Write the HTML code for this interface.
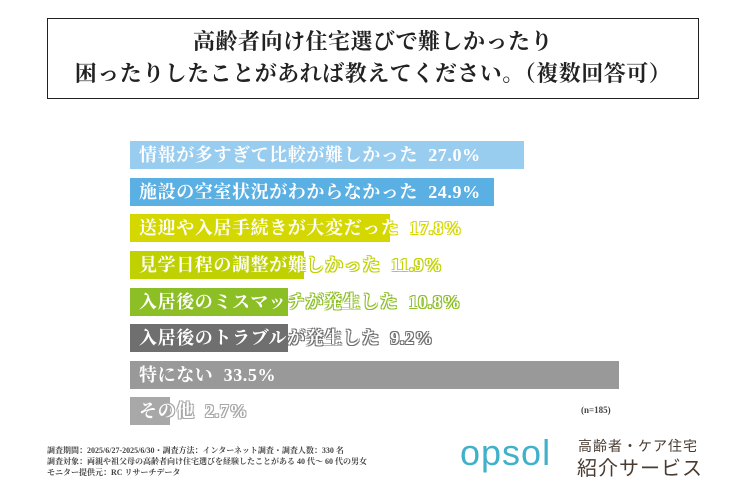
<!DOCTYPE html>
<html><head><meta charset="utf-8"><style>
body{margin:0;width:750px;height:500px;background:#fff;position:relative;overflow:hidden;font-family:"Liberation Serif","Noto Serif CJK SC",serif}
.t{position:absolute;left:47px;top:18px;width:652px;height:81px;border:1.5px solid #222;box-sizing:border-box;text-align:center;font-weight:bold;font-size:22px;line-height:32px;padding-top:7px;color:#222;letter-spacing:0.5px}
.b{position:absolute;left:130px;height:28px}
.l{position:absolute;left:139px;height:28px;line-height:29px;font-size:18px;font-weight:bold;color:#fff;white-space:nowrap;letter-spacing:0.6px}
.n{position:absolute;font-size:9px;font-weight:bold;color:#444}
.f{position:absolute;left:47px;top:445px;font-size:8px;line-height:11px;color:#444;font-weight:bold}
</style></head><body>
<div class="t">高齢者向け住宅選びで難しかったり<br>困ったりしたことがあれば教えてください。（複数回答可）</div>
<div class="b" style="top:141px;width:394px;background:#99cdf0"></div>
<div class="b" style="top:178px;width:364px;background:#5aafe3"></div>
<div class="b" style="top:214px;width:260px;background:#d4d800"></div>
<div class="b" style="top:251px;width:174px;background:#bfd100"></div>
<div class="b" style="top:288px;width:158px;background:#8cbf26"></div>
<div class="b" style="top:324px;width:158px;background:#6f6f6f"></div>
<div class="b" style="top:361px;width:489px;background:#999"></div>
<div class="b" style="top:397px;width:40px;background:#a8a8a8"></div>
<div class="l" style="top:141px">情報が多すぎて比較が難しかった&nbsp;&nbsp;27.0%</div>
<div class="l" style="top:178px">施設の空室状況がわからなかった&nbsp;&nbsp;24.9%</div>
<div class="l" style="top:214px;text-shadow:-1px -1px 0 #d4d800,1px -1px 0 #d4d800,-1px 1px 0 #d4d800,1px 1px 0 #d4d800">送迎や入居手続きが大変だった&nbsp;&nbsp;17.8%</div>
<div class="l" style="top:251px;text-shadow:-1px -1px 0 #bfd100,1px -1px 0 #bfd100,-1px 1px 0 #bfd100,1px 1px 0 #bfd100">見学日程の調整が難しかった&nbsp;&nbsp;11.9%</div>
<div class="l" style="top:288px;text-shadow:-1px -1px 0 #8cbf26,1px -1px 0 #8cbf26,-1px 1px 0 #8cbf26,1px 1px 0 #8cbf26">入居後のミスマッチが発生した&nbsp;&nbsp;10.8%</div>
<div class="l" style="top:324px;text-shadow:-1px -1px 0 #6f6f6f,1px -1px 0 #6f6f6f,-1px 1px 0 #6f6f6f,1px 1px 0 #6f6f6f">入居後のトラブルが発生した&nbsp;&nbsp;9.2%</div>
<div class="l" style="top:361px">特にない&nbsp;&nbsp;33.5%</div>
<div class="l" style="top:397px;text-shadow:-1px -1px 0 #a8a8a8,1px -1px 0 #a8a8a8,-1px 1px 0 #a8a8a8,1px 1px 0 #a8a8a8">その他&nbsp;&nbsp;2.7%</div>
<div class="n" style="left:581px;top:405px">(n=185)</div>
<div class="f">調査期間：2025/6/27-2025/6/30・調査方法：インターネット調査・調査人数：330 名<br>調査対象：両親や祖父母の高齢者向け住宅選びを経験したことがある 40 代～ 60 代の男女<br>モニター提供元：RC リサーチデータ</div>
<div style="position:absolute;left:460px;top:432px;font-family:'Liberation Sans',sans-serif;font-size:36px;color:#3fb1c8;letter-spacing:1px">opsol</div>
<div style="position:absolute;left:578px;top:436px;font-family:'Liberation Sans','Noto Sans CJK JP',sans-serif;font-size:14px;color:#4a3b30;letter-spacing:1px">高齢者・ケア住宅</div>
<div style="position:absolute;left:577px;top:452px;font-family:'Liberation Sans','Noto Sans CJK JP',sans-serif;font-size:20px;color:#4a3b30;letter-spacing:1px">紹介サービス</div>
</body></html>
